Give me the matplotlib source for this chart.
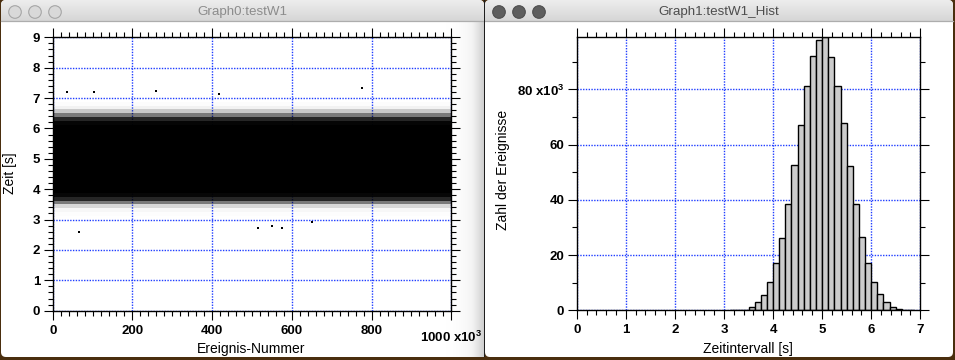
import numpy as np
import matplotlib
matplotlib.use("Agg")
import matplotlib.pyplot as plt
from matplotlib.patches import Circle, FancyBboxPatch, Rectangle
from matplotlib.ticker import MultipleLocator, FixedLocator, FuncFormatter
from matplotlib.colors import LinearSegmentedColormap

# ---------------- data ----------------
n_events = 1_000_000
bin_width = 0.125
bin_starts = [3.125, 3.25, 3.375, 3.5, 3.625, 3.75, 3.875, 4.0, 4.125, 4.25,
              4.375, 4.5, 4.625, 4.75, 4.875, 5.0, 5.125, 5.25, 5.375, 5.5,
              5.625, 5.75, 5.875, 6.0, 6.125, 6.25, 6.375, 6.5, 6.625, 6.75]
counts = [10, 50, 250, 1100, 2850, 5400, 10150, 17050, 26100, 38400,
          52600, 67200, 81300, 92200, 98100, 98900, 91900, 81300, 67900, 52200,
          38400, 26400, 17050, 10150, 5800, 2850, 1100, 360, 80, 20]
# isolated events far outside the band (event number, time)
outlier_event = [35e3, 104e3, 259e3, 417e3, 777e3, 550e3, 576e3, 651e3, 67e3, 515e3]
outlier_time = [7.19, 7.19, 7.24, 7.12, 7.33, 2.80, 2.71, 2.93, 2.60, 2.72]

x_major = [0, 200e3, 400e3, 600e3, 800e3, 1000e3]
x_labels = ["0", "200", "400", "600", "800", ""]
hist_y_major = [0, 20e3, 40e3, 60e3, 80e3]
hist_y_labels = ["0", "20", "40", "60", "80 x10$^{3}$"]

# ---------------- style ----------------
plt.rcParams["font.family"] = ["Liberation Sans", "DejaVu Sans"]
plt.rcParams["mathtext.fontset"] = "custom"
plt.rcParams["mathtext.rm"] = "Liberation Sans:bold"
plt.rcParams["mathtext.it"] = "Liberation Sans:bold"
plt.rcParams["mathtext.bf"] = "Liberation Sans:bold"

W, H = 955, 360
fig = plt.figure(figsize=(W / 100, H / 100), dpi=100)
fig.patch.set_facecolor("#4a2e0e")


def rect_px(x0, y0, x1, y1):
    return [x0 / W, 1 - y1 / H, (x1 - x0) / W, (y1 - y0) / H]


# ---------------- window chrome ----------------
ov = fig.add_axes([0, 0, 1, 1], zorder=-10)
ov.set_xlim(0, W)
ov.set_ylim(H, 0)
ov.axis("off")

title_cmap = LinearSegmentedColormap.from_list("tb", ["#ededed", "#d6d6d6"])
shadow_cmap = LinearSegmentedColormap.from_list("sh", ["#ffffff", "#f4f4f4", "#cfcfcf"])
grad = np.linspace(0, 1, 64).reshape(-1, 1)

for (x0, x1, title, tcol, cfill, cedge) in [
        (1, 484, "Graph0:testW1", "#8c8c8c", "#d9d9d9", "#a6a6a6"),
        (485, 953, "Graph1:testW1_Hist", "#4d4d4d", "#5e5e5e", "#4f4f4f")]:
    win = FancyBboxPatch((x0, 0), x1 - x0, 357,
                         boxstyle="round,pad=0,rounding_size=5",
                         fc="white", ec="none")
    ov.add_patch(win)
    im = ov.imshow(grad, extent=[x0, x1, 21, 0], cmap=title_cmap,
                   aspect="auto", vmin=0, vmax=1, zorder=2)
    im.set_clip_path(win)
    ov.plot([x0, x1], [21.3, 21.3], color="#adadad", lw=0.9, zorder=3)
    for i in range(3):
        ov.add_patch(Circle((x0 + 14 + 20 * i, 12), 6.3, fc=cfill, ec=cedge,
                            lw=0.8, zorder=4))
    ov.text((x0 + x1) / 2, 11.5, title, ha="center", va="center",
            fontsize=9.6, color=tcol, zorder=4)

# shadow of the front window on the back window
sh = np.linspace(0, 1, 64).reshape(1, -1) ** 2
ov.imshow(sh, extent=[444, 484, 357, 21.8], cmap=shadow_cmap, aspect="auto",
          vmin=0, vmax=1, zorder=2)
ov.add_patch(Rectangle((483.6, 0), 1.2, 357, fc="#1e1e1e", ec="none", zorder=5))

grid_kw = dict(color="#1f3dff", linestyle=(0, (1, 1)), linewidth=1.0)
tick_font = dict(fontsize=9.5, fontweight="bold")


def style_axes(ax):
    for s in ax.spines.values():
        s.set_linewidth(1.0)
        s.set_color("black")
    ax.tick_params(which="both", direction="out", top=True, right=True,
                   labeltop=False, labelright=False, width=0.8, color="black")
    ax.tick_params(which="major", length=6.5)
    ax.tick_params(which="minor", length=3.6)
    ax.set_axisbelow(True)
    ax.grid(True, which="major", **grid_kw)


# ---------------- left graph: scatter ----------------
ax1 = fig.add_axes(rect_px(52.7, 37.3, 451.3, 310.7))
ax1.set_xlim(0, n_events)
ax1.set_ylim(0, 9)
style_axes(ax1)
ax1.xaxis.set_major_locator(FixedLocator(x_major))
ax1.xaxis.set_minor_locator(MultipleLocator(20e3))
ax1.set_xticklabels(x_labels, **tick_font)
ax1.yaxis.set_major_locator(MultipleLocator(1))
ax1.yaxis.set_minor_locator(MultipleLocator(0.2))
ax1.set_yticks(range(10))
ax1.set_yticklabels([str(v) for v in range(10)], **tick_font)
ax1.tick_params(axis="x", pad=3.5)
ax1.tick_params(axis="y", pad=2.5)

# density of the event cloud per time bin (same values as the histogram)
pix_per_bin = 1500.0
for s, c in zip(bin_starts, counts):
    a = 1 - np.exp(-c / pix_per_bin)
    ax1.fill_between([0, n_events], s, s + bin_width, color="black",
                     alpha=float(a), lw=0, antialiased=False, zorder=2)
ax1.scatter(outlier_event, outlier_time, s=1.2, marker="s", c="black",
            lw=0, zorder=2)
ax1.text(n_events, -0.1145, "1000 x10$^{3}$", transform=ax1.get_xaxis_transform(),
         ha="center", va="baseline", **tick_font)

fig.text(10 / W, 1 - 173 / H, "Zeit [s]", rotation=90, ha="center",
         va="center", fontsize=10)
fig.text(251 / W, 1 - 349 / H, "Ereignis-Nummer", ha="center", va="center",
         fontsize=10)

# ---------------- right graph: histogram ----------------
ax2 = fig.add_axes(rect_px(576.7, 37.3, 920.3, 310.3))
ax2.bar(bin_starts, counts, width=bin_width, align="edge", color="#cccccc",
        edgecolor="black", linewidth=1.0, zorder=2)
ax2.set_xlim(0, 7)
ax2.set_ylim(0, max(counts))
style_axes(ax2)
ax2.set_xticks(range(8))
ax2.set_xticklabels([str(v) for v in range(8)], **tick_font)
ax2.xaxis.set_minor_locator(MultipleLocator(0.2))
ax2.set_yticks(hist_y_major)
ax2.set_yticklabels(hist_y_labels, **tick_font)
ax2.yaxis.set_minor_locator(MultipleLocator(10e3))
ax2.tick_params(axis="x", pad=3.5)
ax2.tick_params(axis="y", pad=2.5)

fig.text(502.5 / W, 1 - 170 / H, "Zahl der Ereignisse", rotation=90,
         ha="center", va="center", fontsize=10)
fig.text(748 / W, 1 - 349 / H, "Zeitintervall [s]", ha="center", va="center",
         fontsize=10)

fig.savefig("out.png", dpi=100, facecolor=fig.get_facecolor())
